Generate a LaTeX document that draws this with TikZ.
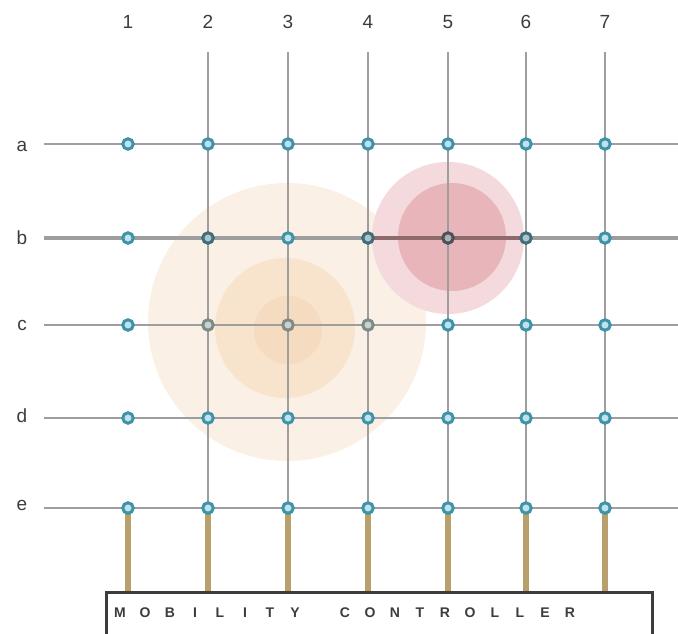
\documentclass[tikz,border=0pt]{standalone}
\usepackage{fontspec}
\setmainfont{Liberation Sans}
\usetikzlibrary{calc}

\definecolor{gridgray}{HTML}{9E9E9E}
\definecolor{portteal}{HTML}{3F92A8}
\definecolor{portfill}{HTML}{BDE4EC}
\definecolor{portgray}{HTML}{7F8B86}
\definecolor{portdeep}{HTML}{3F6E78}
\definecolor{portdark}{HTML}{4A5258}
\definecolor{bartan}{HTML}{B89F6C}
\definecolor{peachout}{HTML}{FBF0E5}
\definecolor{peachin}{HTML}{F8E3CD}
\definecolor{peachcore}{HTML}{F4D6B4}
\definecolor{roseout}{HTML}{F4DADC}
\definecolor{rosein}{HTML}{E8B5BA}
\definecolor{maroon}{HTML}{8A5E60}
\definecolor{labelink}{HTML}{3C3C3C}

\begin{document}
\begin{tikzpicture}[x=1pt, y=-1pt,
	gridline/.style={draw=gridgray, line width=2pt},
	port/.style={circle, draw=portteal, fill=portfill, line width=3pt, minimum size=10.5pt, inner sep=0pt},
	portgrey/.style={draw=portgray, fill=portgray!40},
	portdeep/.style={draw=portdeep, fill=portfill!70!gray},
	portdark/.style={draw=portdark, fill=portdark!45},
	lbl/.style={font=\fontsize{19}{22}\selectfont, text=labelink, inner sep=1pt},
	letter/.style={font=\fontsize{14}{16}\selectfont\bfseries, text=labelink, inner sep=0pt},
	bar/.style={draw=bartan, line width=6pt},
	ctrlbox/.style={draw=labelink, line width=3pt}]

		\useasboundingbox (0,0) rectangle (678,633);

		% Special port looks
		\tikzset{
			portb2/.style={portdeep}, portb4/.style={portdeep}, portb6/.style={portdeep},
			portb5/.style={portdark},
			portc2/.style={portgrey}, portc3/.style={portgrey}, portc4/.style={portgrey}}

		% --- Coverage areas ---
		\fill[peachout] (287,322) circle (139);
		\fill[peachin] (285,328) circle (70);
		\fill[peachcore, opacity=0.5] (288,330) circle (34);
		\fill[roseout] (448,238) circle (76);
		\fill[rosein] (452,237) circle (54);

		% --- Grid points and labels ---
		\foreach \c/\xx in {1/128, 2/208, 3/288, 4/368, 5/448, 6/526, 7/605} {
			\node[lbl] (col\c) at (\xx,22) {\c};
			\coordinate (top\c) at (\xx,52);
			\foreach \r/\yy in {a/144, b/238, c/325, d/418, e/508}
				\coordinate (g-\r\c) at (\xx,\yy);
		}
		\foreach \r/\yy in {a/146, b/238, c/325, d/416, e/505}
			\node[lbl] (row\r) at (22,\yy) {\r};
		\foreach \r in {a, b, c, d, e} {
			\coordinate (start\r) at ($(g-\r1 -| rowa.east)+(16,0)$);
			\coordinate (end\r) at (g-\r1 -| 678,0);
		}

		% --- Wires ---
		\foreach \r in {a, c, d, e}
			\draw[gridline] (start\r) -- (end\r);
		\draw[gridline, line width=3.5pt] (startb) -- (endb);
		\draw[maroon, line width=3.5pt, opacity=0.8] (g-b4) -- (g-b6);
		\foreach \c in {2,...,7}
			\draw[gridline] (top\c) -- (g-e\c);

		% --- Controller ---
		\coordinate (boxtl) at (106,592);
		\coordinate (boxtr) at (652,592);
		\foreach \c in {1,...,7}
			\draw[bar] (g-e\c) -- (g-e\c |- boxtl);
		\draw[ctrlbox] (106,650) -- (boxtl) -- (boxtr) -- (652,650);
		\foreach \ch [count=\i from 0] in {M,O,B,I,L,I,T,Y,{},C,O,N,T,R,O,L,L,E,R}
			\node[letter] (ltr\i) at (120+25*\i,613) {\ch};

		% --- Ports ---
		\foreach \c in {1,...,7}
			\foreach \r in {a, b, c, d, e}
				\node[port, port\r\c/.try] (p-\r\c) at (g-\r\c) {};

	\end{tikzpicture}
\end{document}
